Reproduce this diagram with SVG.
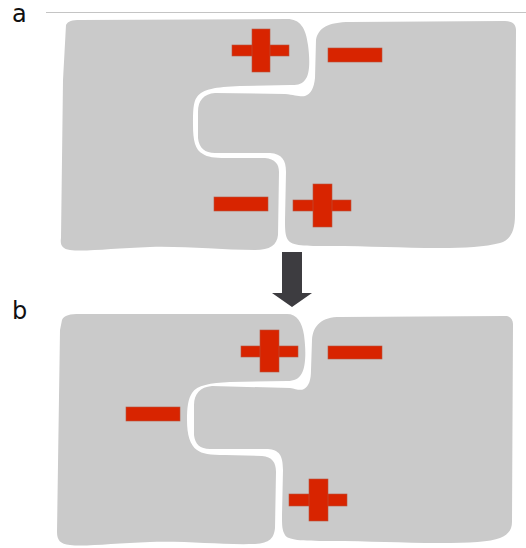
<svg xmlns="http://www.w3.org/2000/svg" width="526" height="548" viewBox="0 0 526 548">
  <style>
    .block { fill: #cacaca; }
    .charge { fill: #d82400; stroke: #b8553f; stroke-width: 0.6; }
    .label { font-family: "DejaVu Sans", "Open Sans", sans-serif; font-size: 24px; fill: #111; }
    .rule { stroke: #c4c4c4; stroke-width: 1; }
    .arrow { fill: #3d3c40; }
  </style>

  <line class="rule" x1="46" y1="12.5" x2="526" y2="12.5"/>

  <text class="label" x="12" y="22">a</text>
  <text class="label" x="12" y="319">b</text>

  <!-- state a -->
  <g id="a-left">
    <path class="block" d="M 66,25 C 68,21 72,20 80,20 L 287,19 C 300,19 306,28 308,45 C 310,60 310,75 305,80 C 301,85 296,85 290,85 L 240,86 C 215,87 203,89 197,97 C 193,102 193,112 193,125 C 193,140 195,150 203,154 C 207,157 215,158 225,158 L 265,158 C 275,159 279,164 279,172 L 278,235 C 277,245 270,250 255,250 C 220,250 185,246 150,247 C 115,248 85,252 70,250 C 62,249 60,245 61,238 L 63,80 Z"/>
    <rect class="charge" x="232" y="45" width="57" height="11"/>
    <rect class="charge" x="252" y="29" width="18" height="43"/>
    <rect class="charge" x="214" y="197" width="54" height="14"/>
  </g>
  <g id="a-right">
    <path class="block" d="M 316,40 C 318,28 328,22 350,22 L 505,21 C 512,21 516,24 516,30 L 515,215 C 515,232 510,240 500,243 C 485,247 465,248 440,248 C 400,248 370,246 330,246 C 305,246 292,246 288,240 C 285,236 285,228 285,220 L 286,172 C 286,160 282,154 270,153 L 215,153 C 205,153 199,148 198,138 L 198,112 C 198,100 204,94 215,93 L 285,94 C 295,95 300,97 305,96 C 311,94 314,88 315,78 Z"/>
    <rect class="charge" x="328" y="48" width="54" height="14"/>
    <rect class="charge" x="293" y="200" width="58" height="11"/>
    <rect class="charge" x="313" y="184" width="19" height="43"/>
  </g>

  <!-- state b -->
  <g id="b-left">
    <path class="block" d="M 62,320 C 64,315 70,314 80,314 L 287,314 C 297,314 302,322 304,335 C 306,350 306,365 302,373 C 299,379 294,381 287,381 L 230,382 C 210,383 197,385 192,393 C 188,399 187,408 187,420 C 187,435 190,445 197,450 C 202,454 210,455 225,455 L 262,456 C 272,457 276,462 276,472 L 275,528 C 274,538 270,543 255,544 C 220,545 190,541 150,542 C 115,543 85,547 70,545 C 60,544 57,540 57,532 L 60,330 Z"/>
    <rect class="charge" x="241" y="346" width="57" height="11"/>
    <rect class="charge" x="260" y="330" width="19" height="42"/>
    <rect class="charge" x="126" y="407" width="54" height="14"/>
  </g>
  <g id="b-right">
    <path class="block" d="M 312,340 C 313,325 322,317 340,317 L 505,316 C 510,316 513,319 513,324 L 512,522 C 512,530 508,535 500,538 C 490,542 470,543 440,543 C 400,543 370,541 330,541 C 300,541 288,540 285,535 C 282,530 282,525 282,515 L 283,470 C 283,455 279,450 268,449 L 210,449 C 200,449 195,444 194,435 L 194,405 C 194,394 200,387 212,386 L 290,388 C 296,389 300,391 304,389 C 309,386 311,380 311,370 Z"/>
    <rect class="charge" x="328" y="346" width="54" height="13"/>
    <rect class="charge" x="289" y="494" width="58" height="12"/>
    <rect class="charge" x="309" y="479" width="19" height="42"/>
  </g>

  <g id="connectors">
    <path class="arrow" d="M 282,252 H 302 V 293 H 312 L 292,307 L 272,293 H 282 Z"/>
  </g>
</svg>
